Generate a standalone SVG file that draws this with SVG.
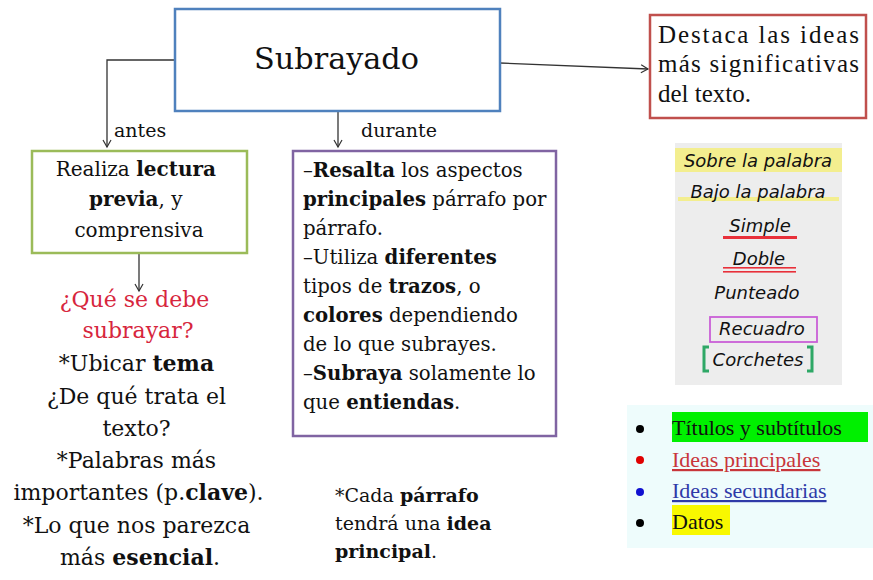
<svg xmlns="http://www.w3.org/2000/svg" width="873" height="580" viewBox="0 0 873 580">
<style>
.s{font-family:"DejaVu Serif","Liberation Serif",serif;fill:#111}
.t{font-family:"Liberation Serif","Times New Roman",serif;fill:#111}
.b{font-weight:bold}
.hand{font-family:"DejaVu Sans",sans-serif;font-style:italic;fill:#111;font-size:18px;text-anchor:middle}
.conn{stroke:#333;stroke-width:1.3;fill:none}
</style>
<defs>
<marker id="arr" markerWidth="10" markerHeight="10" refX="8" refY="5" orient="auto" markerUnits="userSpaceOnUse">
<path d="M1,1 L8,5 L1,9" fill="none" stroke="#333" stroke-width="1.2"/>
</marker>
</defs>
<rect width="873" height="580" fill="#fff"/>

<g id="connectors">
<path class="conn" d="M175,60 H107 V147" marker-end="url(#arr)"/>
<path class="conn" d="M338,111 V147" marker-end="url(#arr)"/>
<path class="conn" d="M500,63 L648,69" marker-end="url(#arr)"/>
<path class="conn" d="M139,253 V291" marker-end="url(#arr)"/>
<text class="s" x="114" y="137" font-size="19">antes</text>
<text class="s" x="361" y="137" font-size="19">durante</text>
</g>

<g id="subrayado">
<rect x="175" y="9" width="325" height="102" fill="#fff" stroke="#4f81bd" stroke-width="2.5"/>
<text class="s" x="254" y="69" font-size="30" textLength="165" lengthAdjust="spacingAndGlyphs">Subrayado</text>
</g>

<g id="destaca">
<rect x="650" y="15" width="216" height="103" fill="#fff" stroke="#c0504d" stroke-width="2.5"/>
<text class="t" font-size="25">
<tspan x="658" y="43" textLength="201" lengthAdjust="spacing">Destaca las ideas</tspan>
<tspan x="658" y="72" textLength="201" lengthAdjust="spacing">más significativas</tspan>
<tspan x="658" y="102">del texto.</tspan>
</text>
</g>

<g id="antes-box">
<rect x="32" y="151" width="215" height="102" fill="#fff" stroke="#9bbb59" stroke-width="2.5"/>
<text class="s" font-size="20" text-anchor="middle">
<tspan x="139" y="176">Realiza <tspan class="b">lectura</tspan></tspan>
<tspan x="139" y="206"><tspan class="b">previa</tspan>, y</tspan>
<tspan x="139" y="237">comprensiva</tspan>
</text>
</g>

<g id="que-subrayar">
<text class="s" font-size="22" text-anchor="middle" style="fill:#d7263d">
<tspan x="138" y="307">¿Qué se debe</tspan>
<tspan x="138" y="338">subrayar?</tspan>
</text>
<text class="s" font-size="22" text-anchor="middle">
<tspan x="140" y="371">*Ubicar <tspan class="b">tema</tspan></tspan>
<tspan x="140" y="404">¿De qué trata el</tspan>
<tspan x="140" y="436">texto?</tspan>
<tspan x="140" y="468">*Palabras más</tspan>
<tspan x="142" y="500">importantes (p.<tspan class="b">clave</tspan>).</tspan>
<tspan x="140" y="533">*Lo que nos parezca</tspan>
<tspan x="140" y="565">más <tspan class="b">esencial</tspan>.</tspan>
</text>
</g>

<g id="durante-box">
<rect x="293" y="151" width="263" height="285" fill="#fff" stroke="#8064a2" stroke-width="2.5"/>
<text class="s" font-size="19.7">
<tspan x="303" y="177">–<tspan class="b">Resalta</tspan> los aspectos</tspan>
<tspan x="303" y="206"><tspan class="b">principales</tspan> párrafo por</tspan>
<tspan x="303" y="235">párrafo.</tspan>
<tspan x="303" y="264">–Utiliza <tspan class="b">diferentes</tspan></tspan>
<tspan x="303" y="293">tipos de <tspan class="b">trazos</tspan>, o</tspan>
<tspan x="303" y="322"><tspan class="b">colores</tspan> dependiendo</tspan>
<tspan x="303" y="351">de lo que subrayes.</tspan>
<tspan x="303" y="380">–<tspan class="b">Subraya</tspan> solamente lo</tspan>
<tspan x="303" y="409">que <tspan class="b">entiendas</tspan>.</tspan>
</text>
</g>

<g id="cada-parrafo">
<text class="s" font-size="19">
<tspan x="335" y="502">*Cada <tspan class="b">párrafo</tspan></tspan>
<tspan x="335" y="530">tendrá una <tspan class="b">idea</tspan></tspan>
<tspan x="335" y="558"><tspan class="b">principal</tspan>.</tspan>
</text>
</g>

<g id="tipos-trazos">
<rect x="675" y="143" width="167" height="242" fill="#ededed"/>
<rect x="675" y="148" width="167" height="24" fill="#f3ee8f"/>
<rect x="678" y="197" width="161" height="4" fill="#f3ee8f"/>
<text class="hand" x="758" y="167">Sobre la palabra</text>
<text class="hand" x="758" y="198">Bajo la palabra</text>
<text class="hand" x="760" y="232">Simple</text>
<rect x="723" y="236" width="74" height="3" fill="#e8303a"/>
<text class="hand" x="759" y="265">Doble</text>
<rect x="723" y="267" width="73" height="1.6" fill="#e8303a"/>
<rect x="723" y="271" width="73" height="1.6" fill="#e8303a"/>
<text class="hand" x="757" y="299">Punteado</text>
<rect x="710" y="317" width="107" height="25" fill="none" stroke="#c95fd6" stroke-width="1.8"/>
<text class="hand" x="762" y="335">Recuadro</text>
<text class="hand" x="758" y="366">Corchetes</text>
<path d="M709,347 H704 V371 H709 M807,347 H812 V371 H807" fill="none" stroke="#2ea866" stroke-width="3"/>
</g>

<g id="colores">
<rect x="627" y="405" width="246" height="143" fill="#eefcfc"/>
<rect x="672" y="412" width="196" height="30" fill="#00f000"/>
<rect x="672" y="505" width="58" height="30" fill="#f8f800"/>
<circle cx="640" cy="429" r="4" fill="#000"/>
<circle cx="640" cy="460" r="4" fill="#e00000"/>
<circle cx="640" cy="492" r="4" fill="#1010d0"/>
<circle cx="640" cy="523" r="4" fill="#000"/>
<text class="t" font-size="22">
<tspan x="672" y="435">Títulos y subtítulos</tspan>
<tspan x="672" y="467" style="fill:#c8353a" text-decoration="underline">Ideas principales</tspan>
<tspan x="672" y="498" style="fill:#2e3aa8" text-decoration="underline">Ideas secundarias</tspan>
<tspan x="672" y="529">Datos</tspan>
</text>
</g>
</svg>
